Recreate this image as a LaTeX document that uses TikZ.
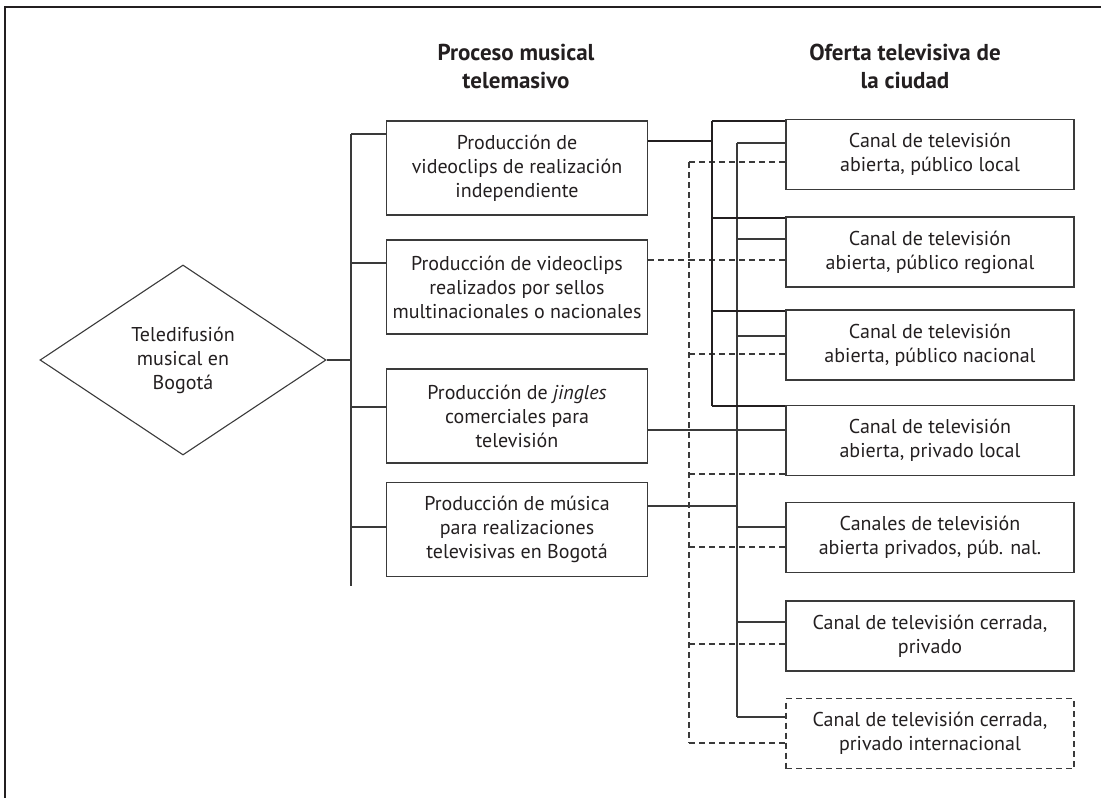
\documentclass[tikz,border=0pt]{standalone}
\usepackage{fontspec}
\setmainfont{PT Sans}
\usetikzlibrary{shapes.geometric}
\definecolor{ink}{HTML}{231F20}
\definecolor{line}{HTML}{3A3A3A}
\begin{document}
\begin{tikzpicture}[x=1pt,y=-1pt,
  every node/.style={font=\fontsize{20}{24}\selectfont,text=ink,align=center,inner sep=0pt},
  head/.style={font=\fontsize{23}{28}\selectfont\bfseries},
  proc/.style={draw=line,line width=1.2pt,minimum width=261pt,minimum height=94pt},
  canal/.style={draw=line,line width=1.2pt,minimum width=288pt,minimum height=70pt},
  wire/.style={draw=line,line width=1.1pt},
  bus/.style={draw=ink,line width=2.4pt},
  dwire/.style={draw=line,line width=1.1pt,dash pattern=on 6pt off 4pt}]
  \useasboundingbox (0,0) rectangle (1101,798);
  \draw[ink,line width=2pt] (5,798) -- (5,7) -- (1101,7);

  \node[head] (hproc) at (516,66) {Proceso musical\\telemasivo};
  \node[head] (hofer) at (905,66) {Oferta televisiva de\\la ciudad};

  \node[draw=line,line width=1.1pt,diamond,minimum width=286pt,minimum height=190pt] (tele) at (183,360) {Teledifusión\\musical en\\Bogotá};

  \node[proc] (p1) at (517,168) {Producción de\\videoclips de realización\\independiente};
  \node[proc] (p2) at (517,287) {Producción de videoclips\\realizados por sellos\\multinacionales o nacionales};
  \node[proc] (p3) at (517,416) {Producción de \textit{jingles}\\comerciales para\\televisión};
  \node[proc] (p4) at (517,529.5) {Producción de música\\para realizaciones\\televisivas en Bogotá};

  \node[canal] (r1) at (930,154.5) {Canal de televisión\\abierta, público local};
  \node[canal] (r2) at (930,252) {Canal de televisión\\abierta, público regional};
  \node[canal] (r3) at (930,345) {Canal de televisión\\abierta, público nacional};
  \node[canal] (r4) at (930,440.5) {Canal de televisión\\abierta, privado local};
  \node[canal] (r5) at (930,537.5) {Canales de televisión\\abierta privados, púb. nal.};
  \node[canal] (r6) at (930,636) {Canal de televisión cerrada,\\privado};
  \node[canal,dash pattern=on 6pt off 4pt] (r7) at (930,733.5) {Canal de televisión cerrada,\\privado internacional};

  \coordinate (ttop) at (351,134);
  \coordinate (tbot) at (351,586);
  \draw[wire] (ttop) -- (tbot);
  \draw[wire] (tele.east) -- (tele.east -| ttop);
  \foreach \y/\p in {134/p1,263/p2,407/p3,527/p4} {
    \coordinate (tj) at (351,\y);
    \draw[wire] (tj) -- (tj -| \p.west);
  }

  \coordinate (dtop) at (689,162);
  \coordinate (dbot) at (689,743);
  \draw[dwire] (dtop) -- (dbot);
  \draw[dwire] (p2.east |- 0,260) -- (689,260);
  \foreach \y/\r in {162/r1,260/r2,354/r3,474/r4,547/r5,644/r6,743/r7} {
    \coordinate (dj) at (689,\y);
    \draw[dwire] (dj) -- (dj -| \r.west);
  }

  \coordinate (stop) at (737,143);
  \coordinate (sbot) at (737,717);
  \draw[wire] (stop) -- (sbot);
  \draw[wire] (p3.east |- 0,430) -- (737,430);
  \draw[wire] (p4.east |- 0,506) -- (737,506);
  \foreach \y/\r in {143/r1,239/r2,336/r3,430/r4,527/r5,622/r6,717/r7} {
    \coordinate (sj) at (737,\y);
    \draw[wire] (sj) -- (sj -| \r.west);
  }

  \coordinate (ktop) at (712,121);
  \coordinate (kbot) at (712,406);
  \draw[bus] (ktop) -- (kbot);
  \draw[bus] (p1.east |- 0,141) -- (712,141);
  \foreach \y/\r in {121/r1,218/r2,311/r3,406/r4} {
    \coordinate (kj) at (712,\y);
    \draw[bus] (kj) -- (kj -| \r.west);
  }
\end{tikzpicture}
\end{document}
